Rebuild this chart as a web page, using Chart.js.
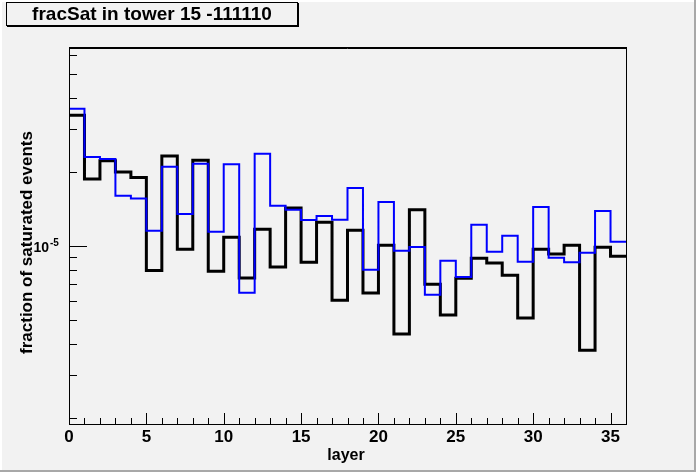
<!DOCTYPE html>
<html lang="en">
<head>
  <meta charset="UTF-8">
  <title>fracSat in tower 15 -111110</title>
  <!-- Chart.js -->
  <script src="https://cdn.jsdelivr.net/npm/chart.js"></script>
  <style>
    html, body { margin: 0; padding: 0; background: #f2f2f2; }
    #wrap { width: 696px; height: 472px; }
  </style>
</head>
<body>
  <div id="wrap"><canvas id="fracSatCanvas" width="696" height="472"></canvas></div>

  <script>
    // bin edges: layer 0..35, plus 36 to close the last bin
    const layerEdges = [0, 1, 2, 3, 4, 5, 6, 7, 8, 9, 10, 11, 12, 13, 14, 15, 16, 17, 18,
                        19, 20, 21, 22, 23, 24, 25, 26, 27, 28, 29, 30, 31, 32, 33, 34, 35, 36];

    // fraction of saturated events per layer (thick black histogram)
    const fracSatBlack = [3.40e-5, 1.87e-5, 2.22e-5, 2.00e-5, 1.90e-5, 0.796e-5, 2.32e-5, 0.970e-5, 2.23e-5,
                          0.789e-5, 1.085e-5, 0.741e-5, 1.169e-5, 0.822e-5, 1.427e-5, 0.859e-5, 1.248e-5, 0.602e-5,
                          1.158e-5, 0.644e-5, 1.007e-5, 0.439e-5, 1.405e-5, 0.699e-5, 0.524e-5, 0.739e-5, 0.891e-5,
                          0.853e-5, 0.760e-5, 0.510e-5, 0.970e-5, 0.928e-5, 1.007e-5, 0.377e-5, 0.988e-5, 0.908e-5];

    // second histogram (thin blue)
    const fracSatBlue = [3.61e-5, 2.30e-5, 2.26e-5, 1.60e-5, 1.56e-5, 1.154e-5, 2.10e-5, 1.349e-5, 2.16e-5,
                         1.143e-5, 2.15e-5, 0.646e-5, 2.37e-5, 1.458e-5, 1.405e-5, 1.276e-5, 1.324e-5, 1.279e-5,
                         1.721e-5, 0.801e-5, 1.509e-5, 0.957e-5, 0.991e-5, 0.634e-5, 0.872e-5, 0.748e-5, 1.221e-5,
                         0.948e-5, 1.101e-5, 0.863e-5, 1.440e-5, 0.896e-5, 0.859e-5, 0.939e-5, 1.388e-5, 1.041e-5];

    // axis ticks
    const xMajorTicks = [0, 5, 10, 15, 20, 25, 30, 35];
    const xMinorTicks = [1, 2, 3, 4, 6, 7, 8, 9, 11, 12, 13, 14, 16, 17, 18, 19, 21, 22, 23, 24,
                         26, 27, 28, 29, 31, 32, 33, 34, 36];
    const yMajorTicks = [1e-5];
    const yMinorTicks = [2e-6, 3e-6, 4e-6, 5e-6, 6e-6, 7e-6, 8e-6, 9e-6, 2e-5, 3e-5, 4e-5, 5e-5, 6e-5];

    const FONT = '"Liberation Sans", Arial, Helvetica, sans-serif';

    // turn bin contents into step points (last bin repeated at the closing edge)
    function toSteps(vals) {
      return layerEdges.map((x, i) => ({ x: x, y: vals[Math.min(i, vals.length - 1)] }));
    }

    // ROOT-like canvas decoration: background, frame, inner ticks, labels, title box
    const rootLook = {
      id: 'rootLook',
      beforeDraw(chart) {
        const ctx = chart.ctx, w = chart.width, h = chart.height;
        ctx.save();
        ctx.fillStyle = '#f2f2f2';
        ctx.fillRect(0, 0, w, h);
        ctx.fillStyle = '#ffffff';
        ctx.fillRect(0, 0, w, 2);
        ctx.fillRect(0, 0, 2, h);
        ctx.fillStyle = '#a8a8a8';
        ctx.fillRect(w - 2, 0, 2, h);
        ctx.fillRect(0, h - 2, w, 2);
        ctx.restore();
      },
      afterDatasetsDraw(chart) {
        const ctx = chart.ctx;
        const a = chart.chartArea;
        const x = chart.scales.x, y = chart.scales.y;
        ctx.save();
        ctx.strokeStyle = '#000';
        ctx.lineWidth = 1;
        ctx.strokeRect(a.left + 0.5, a.top + 0.5, a.right - a.left, a.bottom - a.top);
        ctx.beginPath();
        ctx.moveTo(a.left, a.top + 1.5);
        ctx.lineTo(a.right, a.top + 1.5);
        ctx.stroke();

        // ticks drawn inward, like ROOT
        ctx.beginPath();
        xMinorTicks.forEach(v => {
          const px = Math.round(x.getPixelForValue(v)) + 0.5;
          ctx.moveTo(px, a.bottom);
          ctx.lineTo(px, a.bottom - 6);
        });
        xMajorTicks.forEach(v => {
          const px = Math.round(x.getPixelForValue(v)) + 0.5;
          ctx.moveTo(px, a.bottom);
          ctx.lineTo(px, a.bottom - 11);
        });
        yMinorTicks.forEach(v => {
          const py = Math.round(y.getPixelForValue(v)) + 0.5;
          ctx.moveTo(a.left, py);
          ctx.lineTo(a.left + 8, py);
        });
        yMajorTicks.forEach(v => {
          const py = Math.round(y.getPixelForValue(v)) + 0.5;
          ctx.moveTo(a.left, py);
          ctx.lineTo(a.left + 18, py);
        });
        ctx.stroke();

        // tick labels
        ctx.fillStyle = '#000';
        ctx.font = 'bold 17px ' + FONT;
        ctx.textAlign = 'center';
        ctx.textBaseline = 'alphabetic';
        xMajorTicks.forEach(v => ctx.fillText(String(v), x.getPixelForValue(v), 442));

        yMajorTicks.forEach(v => {
          const py = y.getPixelForValue(v);
          const exp = Math.round(Math.log10(v));
          ctx.font = 'bold 14px ' + FONT;
          ctx.textAlign = 'right';
          ctx.fillText('10', a.left - 20, py + 6);
          ctx.font = 'bold 10px ' + FONT;
          ctx.textAlign = 'left';
          ctx.fillText(String(exp), a.left - 19, py);
        });

        // axis titles
        ctx.font = 'bold 16px ' + FONT;
        ctx.textAlign = 'center';
        ctx.fillText('layer', 346, 460);

        ctx.save();
        ctx.translate(32, 242.5);
        ctx.rotate(-Math.PI / 2);
        ctx.font = 'bold 17px ' + FONT;
        ctx.fillText('fraction of saturated events', 0, 0);
        ctx.restore();

        // title box with shadow
        ctx.lineWidth = 1;
        ctx.strokeRect(6.5, 2.5, 291, 23);
        ctx.beginPath();
        ctx.moveTo(298.5, 3);
        ctx.lineTo(298.5, 27);
        ctx.moveTo(7, 26.5);
        ctx.lineTo(299, 26.5);
        ctx.stroke();
        ctx.font = 'bold 19px ' + FONT;
        ctx.textAlign = 'center';
        ctx.textBaseline = 'middle';
        ctx.fillText('fracSat in tower 15 -111110', 152, 15);
        ctx.restore();
      }
    };

    const ctx = document.getElementById('fracSatCanvas').getContext('2d');
    new Chart(ctx, {
      type: 'line',
      data: {
        datasets: [
          { label: 'blue', data: toSteps(fracSatBlue), borderColor: '#0000ff', borderWidth: 2,
            stepped: 'before', pointRadius: 0, fill: false, borderJoinStyle: 'miter', borderCapStyle: 'butt' },
          { label: 'black', data: toSteps(fracSatBlack), borderColor: '#000000', borderWidth: 3,
            stepped: 'before', pointRadius: 0, fill: false, borderJoinStyle: 'miter', borderCapStyle: 'butt' }
        ]
      },
      options: {
        responsive: false,
        devicePixelRatio: 1,
        animation: false,
        layout: { padding: { left: 69, right: 70, top: 47, bottom: 48 } },
        plugins: { legend: { display: false }, tooltip: { enabled: false } },
        scales: {
          x: { type: 'linear', min: 0, max: 36, display: false },
          y: { type: 'logarithmic', min: 1.89e-6, max: 6.44e-5, display: false }
        }
      },
      plugins: [rootLook]
    });
  </script>
</body>
</html>
